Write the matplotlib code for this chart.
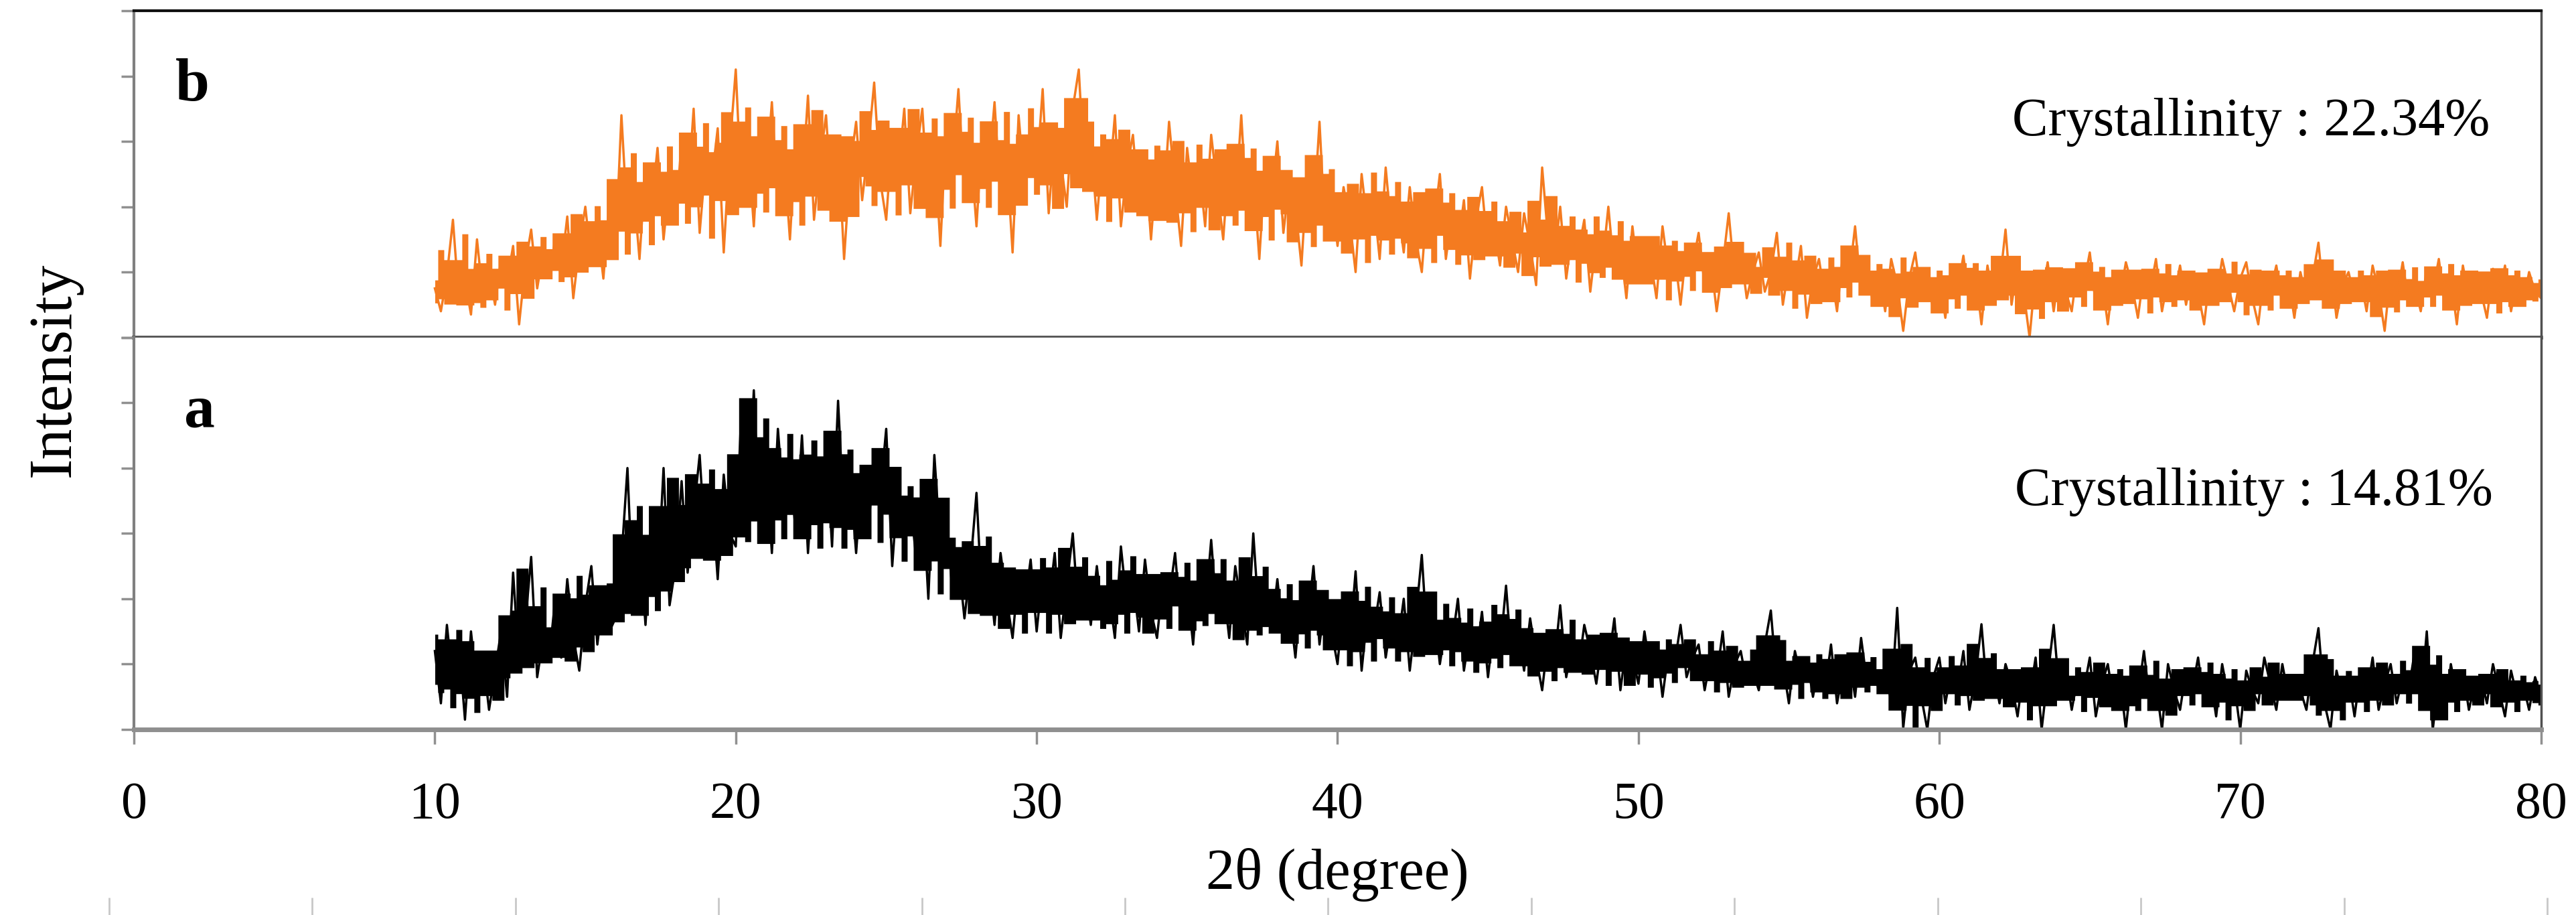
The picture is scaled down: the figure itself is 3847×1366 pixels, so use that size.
import numpy as np
import pandas as pd
import matplotlib.pyplot as plt

# 2theta grid of the scans (step 0.2 deg)
two_theta = np.round(np.arange(10.0, 80.01, 0.2), 1)

# sample b (orange), counts
intens_b = [
    75, 40, 95, 180, 55, 88, 35, 150, 60, 100,
    50, 120, 85, 140, 20, 110, 165, 75, 130, 95,
    150, 105, 185, 60, 140, 200, 115, 170, 90, 205,
    130, 340, 175, 230, 120, 260, 200, 290, 150, 240,
    180, 300, 215, 350, 160, 270, 240, 320, 130, 290,
    410, 210, 300, 170, 330, 240, 360, 200, 280, 150,
    310, 230, 370, 180, 270, 340, 200, 300, 120, 260,
    330, 210, 290, 390, 240, 180, 310, 250, 350, 190,
    280, 350, 200, 300, 140, 330, 260, 380, 220, 290,
    170, 320, 250, 360, 210, 280, 130, 340, 230, 300,
    250, 380, 190, 310, 270, 200, 350, 410, 240, 300,
    180, 290, 230, 340, 170, 260, 310, 200, 280, 150,
    270, 190, 330, 230, 140, 290, 210, 260, 170, 310,
    230, 150, 280, 200, 340, 180, 250, 120, 270, 210,
    300, 160, 240, 200, 110, 260, 180, 330, 150, 220,
    140, 230, 180, 100, 250, 170, 210, 120, 260, 160,
    200, 130, 230, 150, 100, 220, 170, 250, 120, 190,
    140, 210, 90, 180, 230, 130, 170, 110, 200, 150,
    100, 190, 140, 80, 260, 150, 120, 200, 90, 160,
    130, 180, 70, 150, 110, 200, 100, 140, 60, 170,
    90, 150, 120, 60, 170, 100, 130, 50, 140, 110,
    160, 80, 120, 40, 110, 190, 90, 130, 60, 100,
    130, 70, 100, 160, 50, 110, 80, 140, 30, 90,
    120, 60, 100, 40, 130, 90, 170, 70, 110, 50,
    100, 40, 120, 80, 10, 90, 130, 60, 100, 40,
    90, 30, 110, 70, 125, 50, 100, 20, 110, 60,
    80, 165, 50, 110, 70, 0, 100, 60, 115, 40,
    105, 70, 40, 110, 80, 130, 50, 90, 20, 100,
    60, 115, 80, 30, 100, 70, 120, 40, 90, 60,
    110, 50, 100, 70, 20, 100, 60, 120, 80, 40,
    90, 115, 60, 20, 100, 70, 110, 50, 90, 30,
    100, 60, 90, 145, 50, 110, 30, 80, 100, 60,
    90, 40, 110, 70, 10, 100, 60, 115, 50, 80,
    40, 105, 70, 120, 50, 90, 20, 110, 60, 100,
    70, 30, 105, 60, 110, 40, 90, 50, 100, 70,
    60,
]

# sample a (black)
intens_a = [
    120, 40, 160, 70, 130, 15, 150, 60, 110, 30,
    90, 150, 50, 240, 100, 160, 264, 80, 140, 110,
    200, 110, 230, 140, 90, 190, 250, 130, 210, 150,
    170, 260, 400, 180, 290, 160, 320, 220, 400, 190,
    250, 380, 240, 330, 420, 270, 360, 230, 390, 300,
    280, 503, 330, 519, 290, 420, 270, 460, 340, 400,
    300, 450, 270, 410, 330, 440, 280, 503, 320, 390,
    270, 400, 300, 420, 360, 460, 250, 380, 310, 350,
    260, 370, 200, 420, 280, 330, 210, 260, 170, 250,
    362, 180, 250, 160, 270, 200, 140, 240, 190, 260,
    150, 240, 190, 270, 140, 220, 300, 170, 230, 160,
    250, 170, 210, 140, 280, 190, 230, 150, 260, 180,
    140, 230, 200, 270, 160, 220, 130, 250, 180, 290,
    170, 220, 140, 250, 190, 130, 300, 160, 210, 150,
    230, 140, 190, 110, 220, 160, 250, 130, 200, 150,
    100, 200, 130, 242, 90, 180, 150, 210, 110, 170,
    130, 200, 90, 170, 267, 120, 190, 100, 160, 130,
    200, 90, 150, 110, 180, 80, 160, 120, 220, 100,
    150, 90, 170, 110, 60, 140, 100, 190, 80, 130,
    90, 160, 120, 70, 140, 100, 170, 60, 130, 110,
    70, 150, 90, 130, 50, 120, 100, 160, 80, 110,
    130, 60, 110, 80, 150, 50, 100, 120, 70, 90,
    60, 130, 182, 70, 100, 40, 120, 80, 110, 50,
    100, 60, 130, 40, 90, 110, 50, 140, 70, 90,
    60, 100, 40, 186, 2, 90, 110, 50, 0, 80,
    110, 40, 90, 60, 120, 30, 80, 161, 50, 90,
    40, 100, 70, 20, 90, 50, 110, 0, 80, 160,
    50, 90, 30, 80, 60, 110, 20, 70, 100, 40,
    80, 0, 90, 50, 120, 40, 70, 0, 100, 60,
    30, 90, 60, 110, 40, 80, 20, 100, 50, 70,
    0, 90, 60, 40, 110, 70, 30, 100, 50, 80,
    60, 30, 100, 155, 40, 0, 90, 50, 80, 20,
    90, 50, 110, 30, 70, 100, 40, 80, 60, 120,
    40, 150, 0, 80, 20, 100, 50, 90, 30, 70,
    80, 40, 100, 60, 20, 90, 50, 70, 30, 80,
    50,
]

x_ticks = [0, 10, 20, 30, 40, 50, 60, 70, 80]
label_b = 'Crystallinity : 22.34%'
label_a = 'Crystallinity : 14.81%'

plt.rcParams['font.family'] = ['Liberation Serif', 'DejaVu Serif']

fig = plt.figure(figsize=(38.48, 13.66), dpi=100)
gs = fig.add_gridspec(2, 1, height_ratios=[5, 6], hspace=0,
                      left=0.052, right=0.9862, top=0.9883, bottom=0.2028)
ax_b = fig.add_subplot(gs[0])
ax_a = fig.add_subplot(gs[1], sharex=ax_b)


def draw_scan(ax, y, color):
    # dense core of the noise band + the raw trace with its spikes
    s = pd.Series(y, dtype=float)
    lo = s.rolling(5, center=True, min_periods=1).quantile(0.18)
    hi = s.rolling(5, center=True, min_periods=1).quantile(0.82)
    ax.fill_between(two_theta, lo, hi, color=color, lw=0, step='mid')
    ax.plot(two_theta, y, color=color, lw=2.5)


draw_scan(ax_b, intens_b, '#F47B20')
draw_scan(ax_a, intens_a, '#000000')

ax_b.set_ylim(0, 500)
ax_a.set_ylim(0, 600)
ax_b.set_yticks(np.arange(0, 501, 100))
ax_a.set_yticks(np.arange(0, 601, 100))
ax_a.set_xlim(0, 80)
ax_a.set_xticks(x_ticks)

for ax in (ax_a, ax_b):
    ax.tick_params(axis='y', direction='out', length=14, width=2.5,
                   color='#909090', labelleft=False)
    ax.spines['left'].set_color('#808080')
    ax.spines['left'].set_linewidth(3)
    ax.spines['right'].set_color('#505050')
    ax.spines['right'].set_linewidth(2.5)

# top panel: no x ticks, its bottom spine is the divider
ax_b.tick_params(axis='x', bottom=False, labelbottom=False)
ax_b.spines['top'].set_color('#111111')
ax_b.spines['top'].set_linewidth(3)
ax_b.spines['bottom'].set_color('#505050')
ax_b.spines['bottom'].set_linewidth(4)
ax_b.set_yticks([0], minor=True)
ax_b.tick_params(axis='y', which='minor', length=25, width=4, color='#505050')
ax_a.spines['top'].set_visible(False)

ax_a.spines['bottom'].set_color('#8f8f8f')
ax_a.spines['bottom'].set_linewidth(5)
ax_a.tick_params(axis='x', direction='out', length=16, width=2.5,
                 color='#909090', pad=40, labelsize=56)

ax_a.set_xlabel('2\u03b8 (degree)', fontsize=62, va='baseline')
ax_a.xaxis.set_label_coords(0.5, -0.407)
fig.text(81 / 3848, 1 - 552 / 1366, 'Intensity', rotation=90,
         ha='center', va='center', fontsize=66)

ax_b.text(1.94, 363, 'b', fontsize=66, fontweight='bold', ha='center', va='baseline')
ax_a.text(2.18, 463, 'a', fontsize=66, fontweight='bold', ha='center', va='baseline')
ax_b.text(78.3, 309, label_b, fontsize=58, ha='right', va='baseline')
ax_a.text(78.4, 343, label_a, fontsize=58, ha='right', va='baseline')

# faint ticks of a cropped axis along the bottom edge
ax_s = fig.add_axes([163 / 3848, 0, (3804 - 163) / 3848, 0.0001])
ax_s.set_xlim(0, 12)
ax_s.set_xticks(range(13))
ax_s.set_yticks([])
ax_s.tick_params(axis='x', direction='in', length=19, width=2,
                 color='#c8c8c8', labelbottom=False)
for s in ax_s.spines.values():
    s.set_visible(False)
ax_s.patch.set_visible(False)

fig.savefig('out.png', dpi=100, facecolor='white')
